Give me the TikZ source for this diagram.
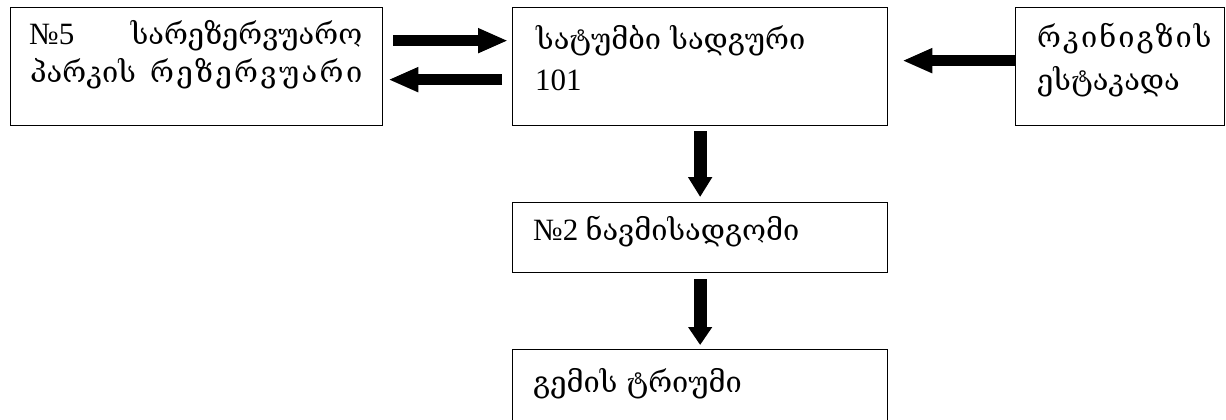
\documentclass[tikz,border=0pt]{standalone}
\usepackage{fontspec}
\setmainfont{Liberation Serif}
\newfontfamily\geo{DejaVu Serif}
\newfontfamily\geosemi[LetterSpace=7]{DejaVu Serif}
\newcommand{\lat}{\fontsize{31}{36}\selectfont}
\usetikzlibrary{arrows.meta}
\begin{document}
\begin{tikzpicture}[x=1pt,y=-1pt,
  box/.style={draw, line width=1.3pt, inner sep=0pt, anchor=north west},
  lbl/.style={anchor=base west, inner sep=0pt, font=\fontsize{29}{34}\selectfont},
  bigarrow/.style={line width=11pt, -{Triangle[length=30pt,width=23pt]}}]
\useasboundingbox (0,0) rectangle (1226,420);
\clip (0,0) rectangle (1226,420);
% boxes
\node[box, minimum width=372pt, minimum height=118pt] (B1) at (10,7) {};
\node[box, minimum width=375pt, minimum height=118pt] (B2) at (512,7) {};
\node[box, minimum width=209pt, minimum height=118pt] (B3) at (1015,7) {};
\node[box, minimum width=375pt, minimum height=70pt] (B4) at (512,202) {};
\node[box, minimum width=375pt, minimum height=100pt] (B5) at (512,349) {};
% texts
\node[lbl] (t1a) at (29,45) {\hbox to 333pt{{\lat №5}\hfill{\geo სარეზერვუარო}}};
\node[lbl] (t1b) at (30,82) {\geo\hbox to 332pt{\hbox to 92pt{პ\hfil ა\hfil რ\hfil კ\hfil ი\hfil ს}\hfill\hbox to 212pt{რ\hfil ე\hfil ზ\hfil ე\hfil რ\hfil ვ\hfil უ\hfil ა\hfil რ\hfil ი}}};
\node[lbl] (t2a) at (536,50) {\geo სატუმბი სადგური};
\node[lbl] (t2b) at (535,91) {\lat 101};
\node[lbl] (t3a) at (1037,48) {\geosemi რკინიგზის};
\node[lbl] (t3b) at (1037,90) {\geo ესტაკადა};
\node[lbl] (t4) at (533,240) {{\lat №2} {\geo ნავმისადგომი}};
\node[lbl] (t5) at (533,392) {\geo გემის ტრიუმი};
% arrows
\draw[bigarrow, shorten <=10pt, shorten >=4pt] ([yshift=26pt]B1.east) -- ([yshift=26pt]B2.west);
\draw[bigarrow, shorten <=10pt, shorten >=5pt] ([yshift=-13pt]B2.west) -- ([yshift=-13pt]B1.east);
\draw[bigarrow, shorten >=14pt] ([yshift=6pt]B3.west) -- ([yshift=6pt]B2.east);
\draw[bigarrow, line width=13pt, -{Triangle[length=20pt,width=23pt]}, shorten <=5pt, shorten >=5pt] (B2.south) -- (B4.north);
\draw[bigarrow, line width=13pt, -{Triangle[length=18pt,width=23pt]}, shorten <=6pt, shorten >=4pt] (B4.south) -- (B5.north);
\end{tikzpicture}
\end{document}
